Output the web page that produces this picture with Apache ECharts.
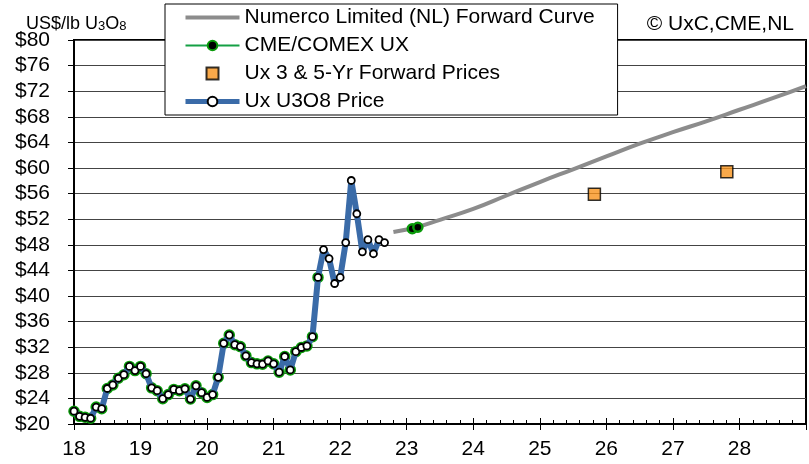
<!DOCTYPE html>
<html>
<head>
<meta charset="utf-8">
<script src="https://cdn.jsdelivr.net/npm/echarts@6/dist/echarts.min.js"></script>
<style>html,body{margin:0;padding:0;background:#fff;}#c{width:809px;height:464px;}</style>
</head>
<body>
<div id="c"></div>
<script>
// Ux U3O8 month-end price, monthly from Jan 2018 (x = 18.0) to Sep 2022
var uxStartYear = 18;
var uxPrice = [
  22.0, 21.2, 21.05, 20.9, 22.65, 22.4, 25.55, 26.1, 27.15, 27.7, 29.0, 28.35,
  29.0, 27.85, 25.65, 25.2, 23.95, 24.6, 25.4, 25.2, 25.5, 23.9, 25.97, 24.9,
  24.15, 24.6, 27.3, 32.6, 33.9, 32.4, 32.1, 30.65, 29.6, 29.4, 29.35, 29.85,
  29.4, 28.1, 30.55, 28.45, 31.3, 31.95, 32.2, 33.65, 42.9, 47.25, 45.85, 41.95,
  42.9, 48.35, 58.05, 52.85, 46.9, 48.8, 46.6, 48.8, 48.35
];
// CME/COMEX UX: monthly (same months as above, Jan 2018 - Sep 2021) plus forward contracts
var cmeMonthly = [
  22.0, 21.2, 21.05, 20.9, 22.65, 22.4, 25.55, 26.1, 27.15, 27.7, 29.0, 28.35,
  29.0, 27.85, 25.65, 25.2, 23.95, 24.6, 25.4, 25.2, 25.5, 23.9, 25.97, 24.9,
  24.15, 24.6, 27.3, 32.6, 33.9, 32.4, 32.1, 30.65, 29.6, 29.4, 29.35, 29.85,
  29.4, 28.1, 30.55, 28.45, 31.3, 31.95, 32.2, 33.65, 42.9
];
var cmeFwdX = [23.083, 23.167];
var cmeFwdY = [50.5, 50.75];
// Numerco Limited forward curve
var nlX = [22.8, 23.0, 23.17, 23.5, 24.0, 24.5, 25.0, 25.5, 26.0, 26.5, 27.0, 27.5, 28.0, 28.5, 29.0];
var nlY = [50.0, 50.4, 50.8, 51.9, 53.6, 55.7, 57.8, 59.8, 61.8, 63.8, 65.6, 67.3, 69.1, 70.9, 72.8];
// Ux 3 & 5-Yr forward prices
var fwdX = [25.82, 27.81];
var fwdY = [55.9, 59.4];
// axes
var xMin = 18, xMax = 29, xStep = 1;
var yMin = 20, yMax = 80, yStep = 4;

var FONT = '"Liberation Sans", Arial, sans-serif';

function monthly(arr) {
  return arr.map(function (v, i) { return [uxStartYear + i / 12, v]; });
}
var cmeData = monthly(cmeMonthly);
cmeData.push([uxStartYear + cmeMonthly.length / 12, '-']);
cmeFwdX.forEach(function (x, i) { cmeData.push([x, cmeFwdY[i]]); });

var chart = echarts.init(document.getElementById('c'), null, {renderer: 'canvas'});
chart.setOption({
  animation: false,
  backgroundColor: '#fff',
  textStyle: {fontFamily: FONT},
  title: [{
    text: '{a|US$/lb U}{s|3}{a|O}{s|8}',
    left: 21, top: 10,
    textStyle: {
      fontWeight: 'normal',
      rich: {
        a: {fontSize: 18, fontWeight: 'normal', fontFamily: FONT, color: '#000', verticalAlign: 'bottom'},
        s: {fontSize: 13, fontWeight: 'normal', fontFamily: FONT, color: '#000', verticalAlign: 'bottom'}
      }
    }
  }, {
    text: '© UxC,CME,NL',
    right: 10, top: 9,
    textStyle: {fontSize: 21, fontWeight: 'normal', fontFamily: FONT, color: '#000'}
  }],
  legend: {
    orient: 'vertical',
    left: 165, top: 4,
    backgroundColor: '#fff',
    borderColor: '#000', borderWidth: 1, borderRadius: 0,
    padding: [3, 23, 3, 18],
    itemGap: 7,
    itemWidth: 54, itemHeight: 12,
    symbolKeepAspect: true,
    textStyle: {fontSize: 21, color: '#000', fontFamily: FONT, lineHeight: 21},
    data: [
      {name: 'Numerco Limited (NL) Forward Curve', icon: 'path://M0,0L54,0L54,4L0,4Z', itemStyle: {color: '#8c8c8c'}},
      {name: 'CME/COMEX UX', lineStyle: {width: 2}},
      {name: 'Ux 3 & 5-Yr Forward Prices', icon: 'path://M0,0L12,0L12,12L0,12Z'},
      {name: 'Ux U3O8 Price', lineStyle: {width: 5}}
    ]
  },
  grid: {left: 74, right: 3, top: 40, bottom: 40, show: true, borderColor: '#000', borderWidth: 2, backgroundColor: 'transparent'},
  xAxis: [{
    type: 'value', min: xMin, max: xMax, interval: xStep,
    axisLine: {show: true, lineStyle: {color: '#000', width: 2}},
    axisTick: {show: true, inside: true, length: 6, lineStyle: {color: '#000', width: 1}},
    minorTick: {show: true, splitNumber: 5, length: 4, lineStyle: {color: '#000', width: 1}},
    splitLine: {show: false},
    axisLabel: {fontSize: 21, color: '#000', fontFamily: FONT, margin: 15, showMaxLabel: false}
  }, {
    type: 'value', min: xMin, max: xMax, interval: xStep, position: 'bottom',
    axisLine: {show: false},
    axisTick: {show: true, inside: false, length: 6, lineStyle: {color: '#000', width: 1}},
    axisLabel: {show: false},
    splitLine: {show: false}
  }],
  yAxis: {
    type: 'value', min: yMin, max: yMax, interval: yStep,
    axisLine: {show: true, lineStyle: {color: '#000', width: 2}},
    axisTick: {show: true, inside: false, length: 6, lineStyle: {color: '#000', width: 1}},
    splitLine: {show: true, lineStyle: {color: '#444', width: 1}},
    axisLabel: {fontSize: 21, color: '#000', fontFamily: FONT, margin: 24, formatter: '${value}'}
  },
  series: [{
    name: 'Numerco Limited (NL) Forward Curve',
    type: 'line', smooth: true, symbol: 'none',
    lineStyle: {color: '#8c8c8c', width: 4},
    itemStyle: {color: '#8c8c8c'},
    data: nlX.map(function (x, i) { return [x, nlY[i]]; }),
    z: 2
  }, {
    name: 'CME/COMEX UX',
    type: 'line', symbol: 'circle', symbolSize: 9, connectNulls: false,
    lineStyle: {color: '#14a044', width: 2},
    itemStyle: {color: '#000', borderColor: '#0a9a0a', borderWidth: 2.5},
    data: cmeData,
    z: 3
  }, {
    name: 'Ux 3 & 5-Yr Forward Prices',
    type: 'scatter', symbol: 'rect', symbolSize: 12,
    itemStyle: {color: '#f7941d', borderColor: '#000', borderWidth: 1.5},
    data: fwdX.map(function (x, i) { return [x, fwdY[i]]; }),
    z: 4
  }, {
    name: 'Ux U3O8 Price',
    type: 'line', symbol: 'circle', symbolSize: 7,
    lineStyle: {color: '#3a6ba8', width: 6},
    itemStyle: {color: '#fff', borderColor: '#000', borderWidth: 1.8},
    data: monthly(uxPrice),
    z: 5
  }]
});
</script>
</body>
</html>
